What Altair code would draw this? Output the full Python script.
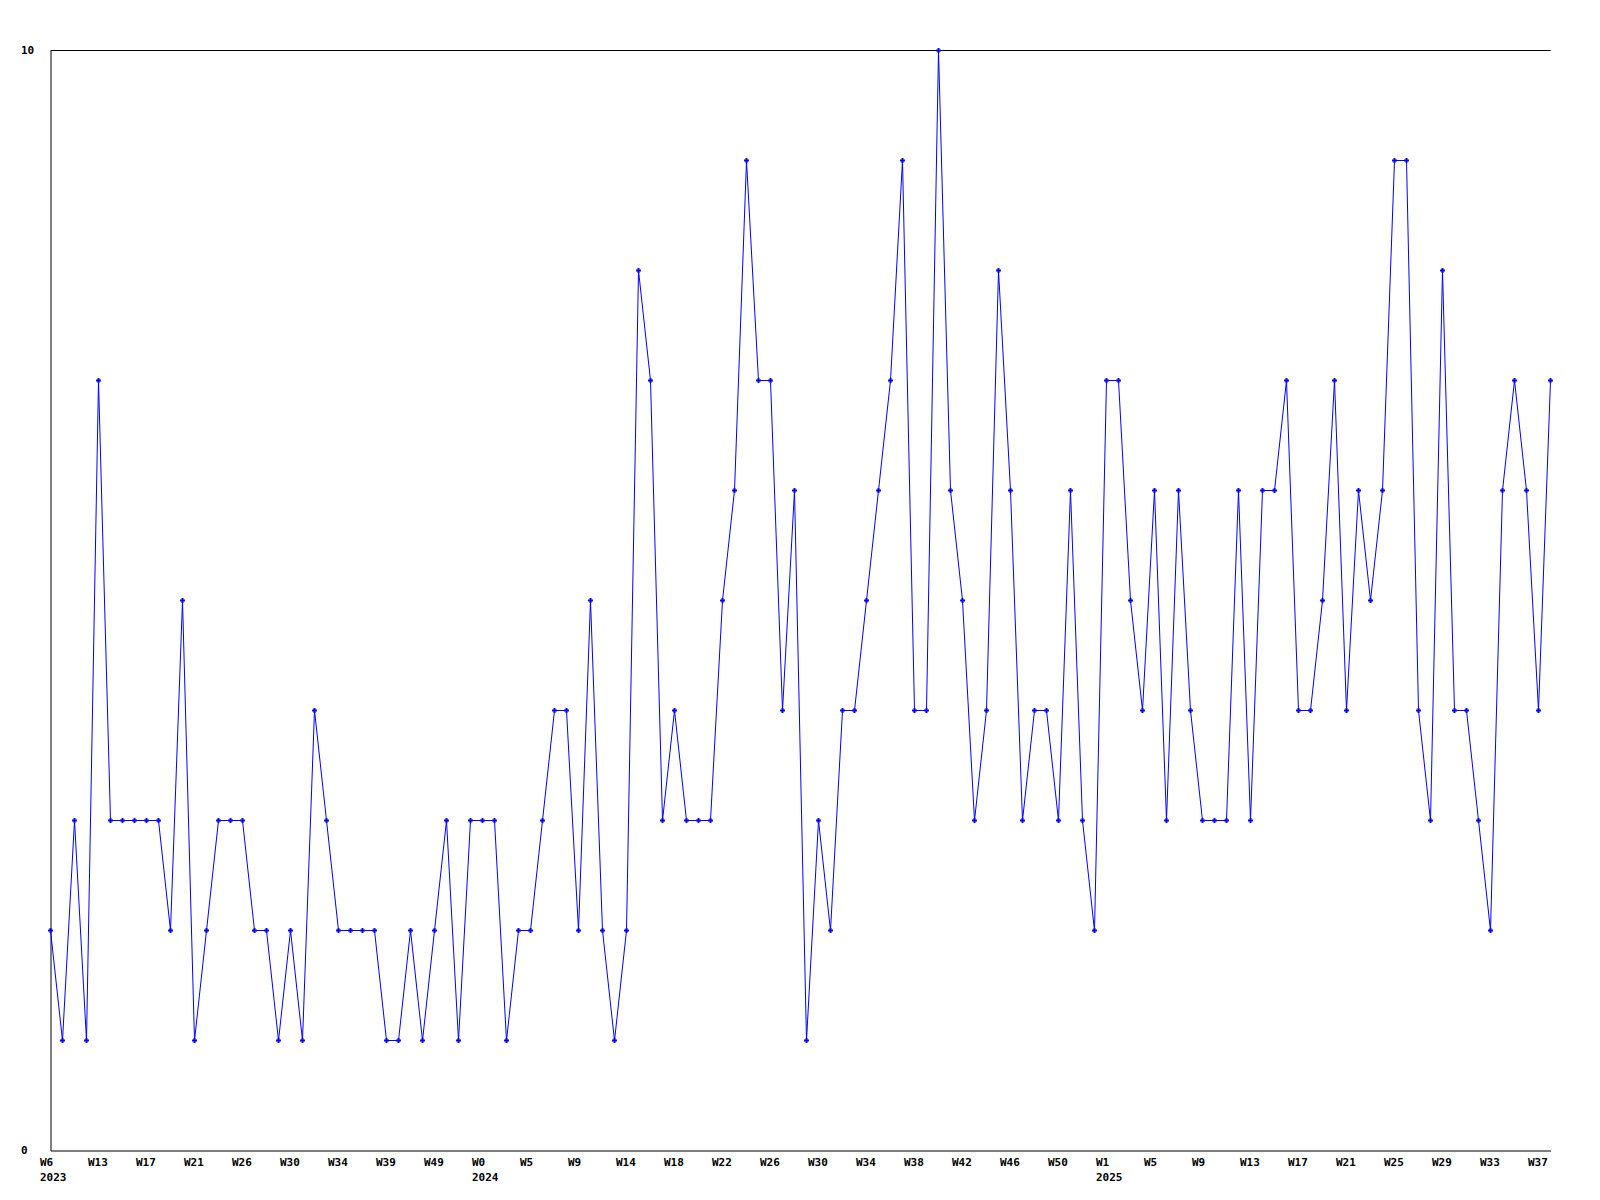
import json
import altair as alt
import pandas as pd

values = [2, 1, 3, 1, 7, 3, 3, 3, 3, 3, 2, 5, 1, 2, 3, 3, 3, 2, 2, 1,
          2, 1, 4, 3, 2, 2, 2, 2, 1, 1, 2, 1, 2, 3, 1, 3, 3, 3, 1, 2,
          2, 3, 4, 4, 2, 5, 2, 1, 2, 8, 7, 3, 4, 3, 3, 3, 5, 6, 9, 7,
          7, 4, 6, 1, 3, 2, 4, 4, 5, 6, 7, 9, 4, 4, 10, 6, 5, 3, 4, 8,
          6, 3, 4, 4, 3, 6, 3, 2, 7, 7, 5, 4, 6, 3, 6, 4, 3, 3, 3, 6,
          3, 6, 6, 7, 4, 4, 5, 7, 4, 6, 5, 6, 9, 9, 4, 3, 8, 4, 4, 3,
          2, 6, 7, 6, 4, 7]

week_labels = ["W6", "W13", "W17", "W21", "W26", "W30", "W34", "W39", "W49", "W0",
               "W5", "W9", "W14", "W18", "W22", "W26", "W30", "W34", "W38", "W42",
               "W46", "W50", "W1", "W5", "W9", "W13", "W17", "W21", "W25", "W29",
               "W33", "W37"]
year_labels = {0: "2023", 9: "2024", 22: "2025"}
label_step = 4

df = pd.DataFrame({"idx": list(range(len(values))), "value": values})

combined = [[w, year_labels[i]] if i in year_labels else w for i, w in enumerate(week_labels)]
label_expr = f"{json.dumps(combined)}[round(datum.value/{label_step})]"
tick_vals = [i * label_step for i in range(len(week_labels))]

FONT = "DejaVu Sans Mono"

x_enc = alt.X("idx:Q",
              scale=alt.Scale(domain=[0, len(values) - 1], nice=False, zero=False),
              axis=alt.Axis(values=tick_vals, labelExpr=label_expr, title=None,
                            grid=False, ticks=False, domainColor="black",
                            labelAlign="left", labelOffset=-11, labelBaseline="top",
                            labelPadding=6, labelLineHeight=15,
                            labelFont=FONT, labelFontSize=11, labelFontWeight="bold",
                            labelColor="black", labelOverlap=False, labelFlush=False,
                            labelBound=False))
y_enc = alt.Y("value:Q",
              scale=alt.Scale(domain=[0, 10], nice=False),
              axis=alt.Axis(values=[0, 10], format="d", title=None, grid=False, ticks=False,
                            domainColor="black", labelAlign="left", labelPadding=30,
                            labelBaseline="middle", labelFont=FONT, labelFontSize=11,
                            labelFontWeight="bold", labelColor="black"))

line = alt.Chart(df).mark_line(color="#0000FF", strokeWidth=1).encode(x=x_enc, y=y_enc)
pts = alt.Chart(df).mark_point(shape="cross", filled=True, color="#0000FF",
                               size=24, opacity=1).encode(x="idx:Q", y="value:Q")
top = alt.Chart(pd.DataFrame({"t": [10]})).mark_rule(color="black", strokeWidth=1).encode(
    y=alt.datum(10))

chart = alt.layer(top, line, pts).properties(
    width=1500, height=1100,
    autosize=alt.AutoSizeParams(type="none"),
    padding={"left": 42.5, "top": 42.5, "right": 40, "bottom": 50},
    view=alt.ViewBackground(strokeOpacity=0, strokeWidth=0),
).configure_view(strokeWidth=0, strokeOpacity=0).configure(background="white")

chart.save("out.html", embed_options={"renderer": "svg", "actions": False})
